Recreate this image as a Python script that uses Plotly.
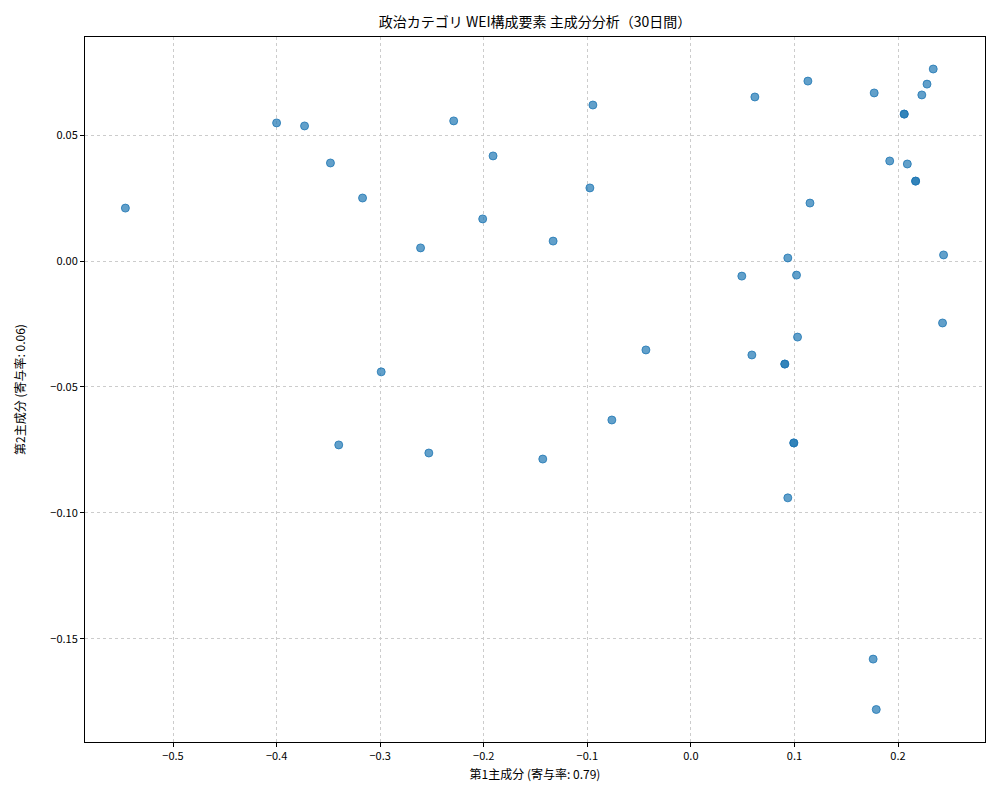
import plotly.graph_objects as go

pc1 = [-0.546,-0.400,-0.373,-0.348,-0.317,-0.229,-0.191,-0.0946,-0.0975,-0.201,-0.261,-0.133,
       0.0618,0.113,0.177,0.234,0.228,0.206,0.206,0.192,0.209,0.217,0.217,0.223,0.115,0.244,
       0.0936,0.0492,0.102,0.243,0.103,0.0589,-0.0434,0.0907,0.0907,-0.299,-0.0763,-0.340,
       -0.253,-0.143,0.0994,0.0994,0.0936,0.176,0.179]
pc2 = [0.021,0.0548,0.0536,0.0389,0.025,0.0556,0.0417,0.0619,0.029,0.0167,0.0052,0.0079,
       0.0651,0.0714,0.0667,0.0762,0.0702,0.0583,0.0583,0.0397,0.0385,0.0317,0.0317,0.0659,0.023,0.0024,
       0.0012,-0.006,-0.0056,-0.0246,-0.0302,-0.0373,-0.0353,-0.0409,-0.0409,-0.044,-0.0631,-0.073,
       -0.0762,-0.0786,-0.0722,-0.0722,-0.094,-0.158,-0.178]

font = "Noto Sans CJK JP, DejaVu Sans, sans-serif"
fig = go.Figure(go.Scatter(x=pc1, y=pc2, mode="markers",
    marker=dict(color="rgba(31,119,180,0.7)", size=8, line=dict(width=1, color="rgba(31,119,180,0.8)"))))
ax = dict(showline=True, linecolor="black", linewidth=1, mirror=True, ticks="outside",
          ticklen=4, tickcolor="black", gridcolor="#cccccc", griddash="dot", zeroline=False,
          tickfont=dict(size=11, color="black"), automargin=False)
fig.update_layout(
    width=1000, height=800, plot_bgcolor="white", paper_bgcolor="white",
    font=dict(family=font, color="black"),
    margin=dict(l=77, r=23, t=29, b=66, autoexpand=False),
    title=dict(text="政治カテゴリ WEI構成要素 主成分分析（30日間）", x=0.527, xanchor="center",
               y=0.983, yanchor="middle", font=dict(size=14)),
    xaxis=dict(ax, range=[-0.585, 0.284], dtick=0.1, tickformat=".1f",
               title=dict(text="第1主成分 (寄与率: 0.79)", font=dict(size=12), standoff=8)),
    yaxis=dict(ax, range=[-0.1909, 0.0889], dtick=0.05, tickformat=".2f",
               title=dict(text="第2主成分 (寄与率: 0.06)", font=dict(size=12), standoff=22)),
    showlegend=False)
fig.write_html("out.html")
